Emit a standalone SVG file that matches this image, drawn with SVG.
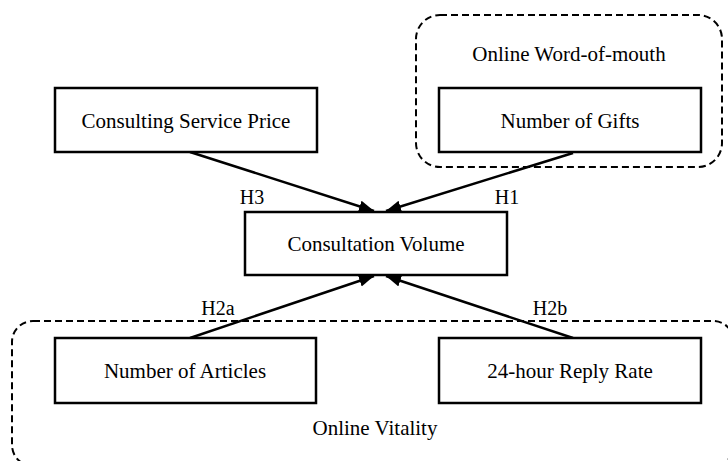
<svg xmlns="http://www.w3.org/2000/svg" width="728" height="461" viewBox="0 0 728 461">
<style>
  .box { fill: #ffffff; stroke: #000000; stroke-width: 2.5; }
  .group { fill: none; stroke: #000000; stroke-width: 2; stroke-dasharray: 7 4; }
  .t { font-family: "Liberation Serif", "Times New Roman", serif; font-size: 21px; fill: #000000; text-anchor: middle; }
  .lbl { font-family: "Liberation Serif", "Times New Roman", serif; font-size: 20px; fill: #000000; text-anchor: middle; }
  .edge { stroke: #000000; stroke-width: 2.5; fill: none; marker-end: url(#arrow); }
</style>
<defs>
  <marker id="arrow" markerUnits="userSpaceOnUse" markerWidth="16" markerHeight="13" refX="15" refY="6" orient="auto">
    <path d="M0,0 L15,6 L0,12 z" fill="#000000"/>
  </marker>
</defs>
<rect width="728" height="461" fill="#ffffff"/>

<g id="group-online-word-of-mouth">
  <rect class="group" x="416" y="15" width="306" height="152" rx="24" ry="24"/>
  <text class="t" x="569" y="61">Online Word-of-mouth</text>
</g>
<g id="group-online-vitality">
  <rect class="group" x="12" y="321" width="722" height="145" rx="21" ry="21"/>
  <text class="t" x="375" y="435">Online Vitality</text>
</g>

<g id="connectors">
  <line class="edge" x1="190" y1="152" x2="374" y2="211"/>
  <line class="edge" x1="573" y1="153" x2="386" y2="211"/>
  <line class="edge" x1="190" y1="338" x2="374" y2="276"/>
  <line class="edge" x1="573" y1="338" x2="386" y2="276"/>
  <text class="lbl" x="252" y="204">H3</text>
  <text class="lbl" x="507" y="204">H1</text>
  <text class="lbl" x="218" y="315">H2a</text>
  <text class="lbl" x="550" y="315">H2b</text>
</g>

<g id="node-consulting-service-price">
  <rect class="box" x="55" y="88" width="262" height="64"/>
  <text class="t" x="186" y="128">Consulting Service Price</text>
</g>
<g id="node-number-of-gifts">
  <rect class="box" x="439" y="88" width="262" height="64"/>
  <text class="t" x="570" y="128">Number of Gifts</text>
</g>
<g id="node-consultation-volume">
  <rect class="box" x="245" y="212" width="262" height="63"/>
  <text class="t" x="376" y="251">Consultation Volume</text>
</g>
<g id="node-number-of-articles">
  <rect class="box" x="55" y="338" width="261" height="65"/>
  <text class="t" x="185" y="378">Number of Articles</text>
</g>
<g id="node-24-hour-reply-rate">
  <rect class="box" x="439" y="338" width="262" height="65"/>
  <text class="t" x="570" y="378">24-hour Reply Rate</text>
</g>
</svg>
